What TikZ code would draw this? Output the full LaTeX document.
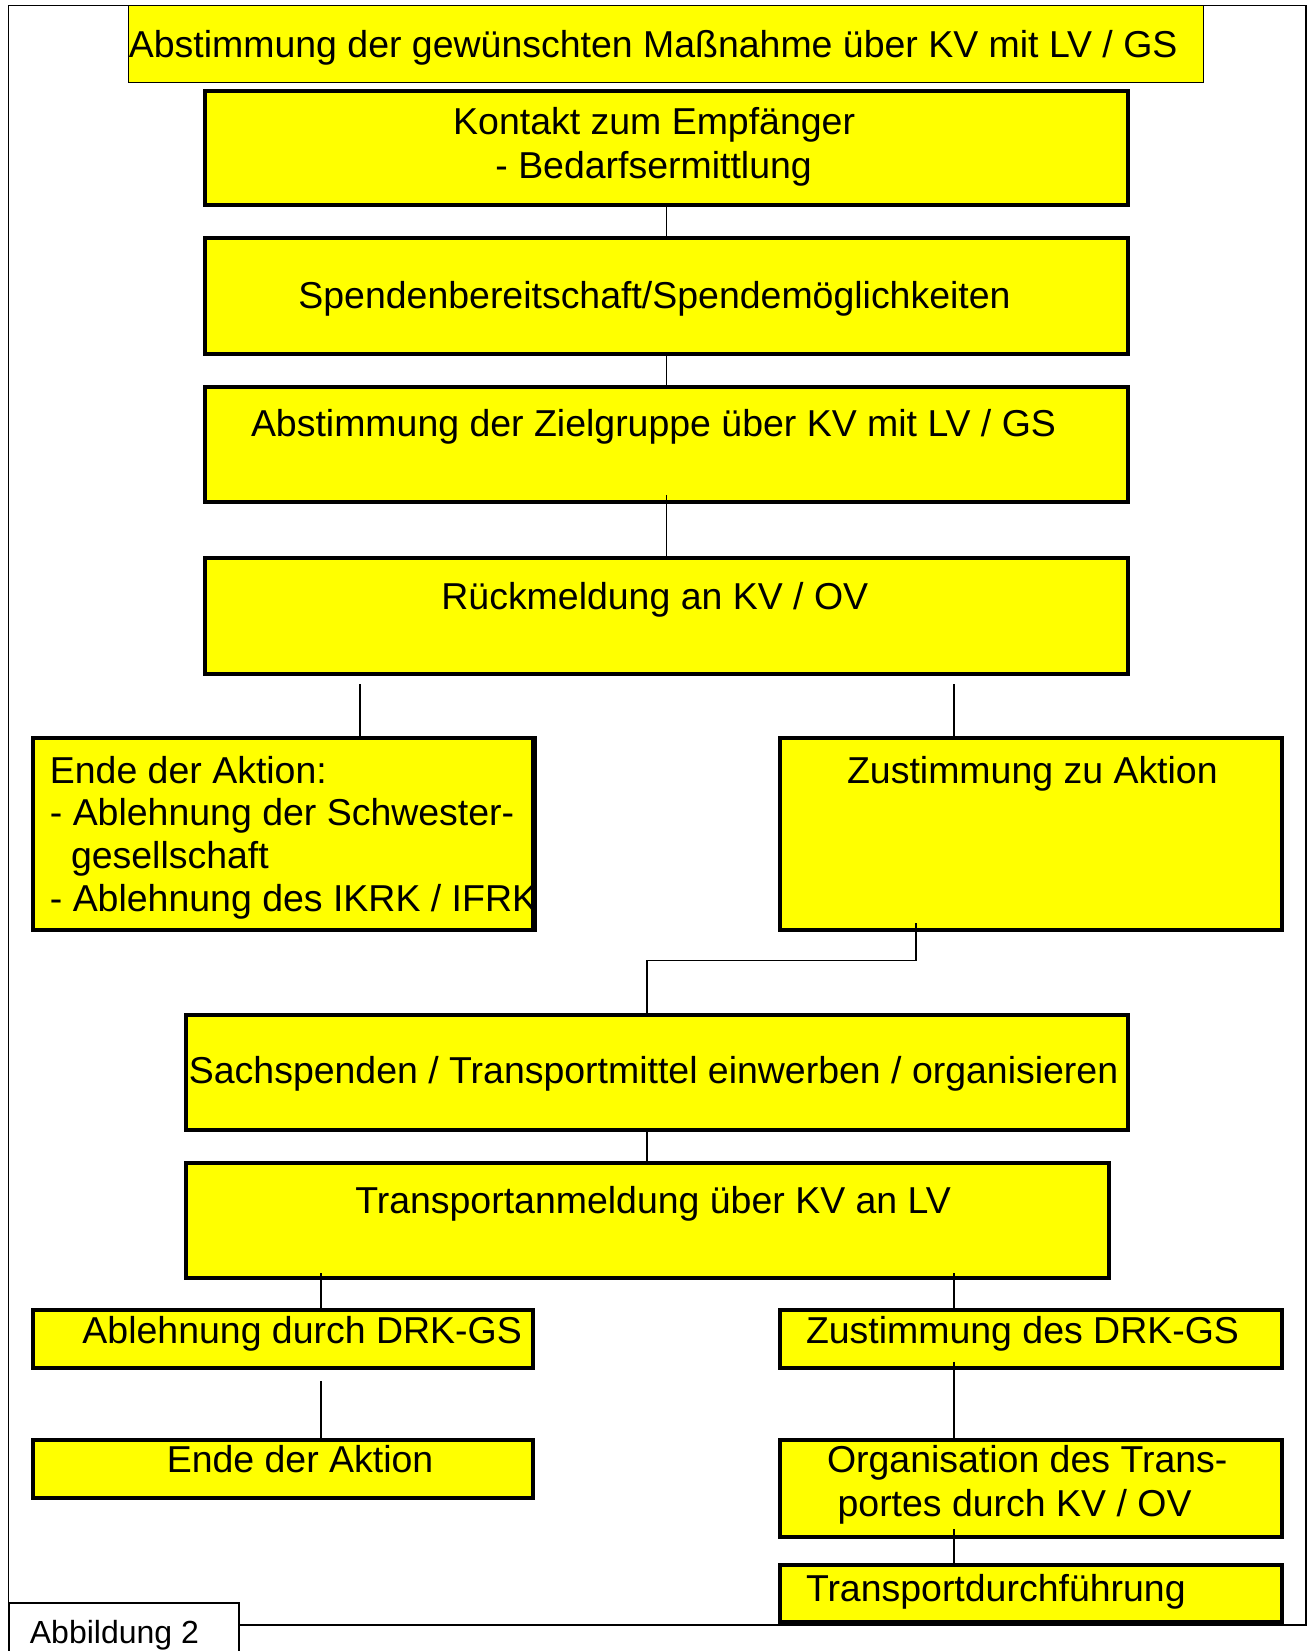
\documentclass[tikz,border=0pt]{standalone}
\usepackage{fontspec}
\setmainfont{Liberation Sans}
\usetikzlibrary{fit}
\definecolor{boxyellow}{RGB}{255,255,0}
\begin{document}
\begin{tikzpicture}[x=0.5pt,y=-0.5pt,
  box/.style={draw=black, line width=2pt, fill=boxyellow, inner sep=0pt, rectangle},
  thinbox/.style={draw=black, line width=0.6pt, fill=boxyellow, inner sep=0pt, rectangle},
  txt/.style={anchor=base west, inner sep=0pt, font=\fontsize{18.73}{22}\selectfont},
  conn/.style={draw=black, line width=0.9pt}]
\useasboundingbox (0,0) rectangle (1310,1651);
% frame
\node[draw=black, line width=0.7pt, inner sep=0pt, fit={(8.4,5.3) (1305.8,1624.9)}] (frame) {};
% boxes
\node[thinbox, fit={(128.5,5.3) (1203.6,82.1)}] (top) {};
\node[box, fit={(205.3,90.6) (1127.8,205.3)}] (kontakt) {};
\node[box, fit={(205.3,238) (1127.8,353.8)}] (spenden) {};
\node[box, fit={(205.3,386.5) (1127.8,502.3)}] (ziel) {};
\node[box, fit={(205.3,558.1) (1127.8,674)}] (rueck) {};
\node[box, fit={(32.6,738.2) (532.8,929.8)}] (ende) {};
\node[box, fit={(780.3,738.2) (1281.6,929.8)}] (zust) {};
\node[box, fit={(186.4,1015.1) (1127.8,1129.9)}] (sach) {};
\node[box, fit={(186.4,1162.7) (1109,1278.4)}] (tanm) {};
\node[box, fit={(32.6,1310) (532.8,1367.9)}] (abl) {};
\node[box, fit={(780.3,1310) (1281.6,1367.9)}] (zdrk) {};
\node[box, fit={(32.6,1439.6) (532.8,1497.5)}] (ende2) {};
\node[box, fit={(780.3,1439.6) (1281.6,1536.5)}] (org) {};
\node[box, fit={(780.3,1564.8) (1281.6,1621.6)}] (tdf) {};
% texts
\node[txt] (ttop) at (128.5,57) {Abstimmung der gewünschten Maßnahme über KV mit LV / GS};
\node[txt] (tk1) at (452.8,134) {Kontakt zum Empfänger};
\node[txt] (tk2) at (495,178) {- Bedarfsermittlung};
\node[txt] (tsp) at (298,308) {Spendenbereitschaft/Spendemöglichkeiten};
\node[txt] (tzi) at (250.6,436) {Abstimmung der Zielgruppe über KV mit LV / GS};
\node[txt] (trk) at (441,609) {Rückmeldung an KV / OV};
\node[txt] (te1) at (49.5,783) {Ende der Aktion:};
\node[txt] (te2) at (49.5,825) {- Ablehnung der Schwester-};
\node[txt] (te3) at (70.6,868) {gesellschaft};
\node[txt] (te4) at (49.5,911) {- Ablehnung des IKRK / IFRK};
\node[txt] (tzu) at (846.7,783) {Zustimmung zu Aktion};
\node[txt] (tsa) at (188.5,1083) {Sachspenden / Transportmittel einwerben / organisieren};
\node[txt] (tta) at (354.9,1213.5) {Transportanmeldung über KV an LV};
\node[txt] (tab) at (82.1,1343) {Ablehnung durch DRK-GS};
\node[txt] (tzd) at (805.6,1343) {Zustimmung des DRK-GS};
\node[txt] (ten) at (166.4,1472.5) {Ende der Aktion};
\node[txt] (to1) at (826.6,1472.5) {Organisation des Trans-};
\node[txt] (to2) at (837.2,1516) {portes durch KV / OV};
\node[txt] (ttd) at (805.6,1601) {Transportdurchführung};
% redraw right border of Ende box over text
\draw[line width=2pt] (ende.north east) -- (ende.south east);
% x positions of connectors
\coordinate (xm) at (666.5,0);
\coordinate (xl) at (360,0);
\coordinate (xr) at (954,0);
\coordinate (xz) at (916.2,0);
\coordinate (xs) at (646.6,0);
\coordinate (xa) at (321,0);
\coordinate (bend) at (0,960.4);
% connectors
\draw[conn] (kontakt.south) -- (spenden.north);
\draw[conn] (spenden.south) -- (ziel.north);
\draw[conn] ([yshift=4.75pt]ziel.south) -- (rueck.north);
\draw[conn] ([yshift=-4.2pt]rueck.south -| xl) -- (ende.north -| xl);
\draw[conn] ([yshift=-4.2pt]rueck.south -| xr) -- (zust.north -| xr);
\draw[conn] ([yshift=4.2pt]zust.south -| xz) -- (bend -| xz) -- (bend -| xs) -- ([yshift=-1.6pt]sach.north -| xs);
\draw[conn] (sach.south -| xs) -- (tanm.north -| xs);
\draw[conn] ([yshift=3.7pt]tanm.south -| xa) -- (abl.north -| xa);
\draw[conn] ([yshift=3.7pt]tanm.south -| xr) -- (zdrk.north -| xr);
\draw[conn] ([yshift=-5.5pt]abl.south -| xa) -- (ende2.north -| xa);
\draw[conn] ([yshift=4.2pt]zdrk.south -| xr) -- (org.north -| xr);
\draw[conn] ([yshift=4.7pt]org.south -| xr) -- (tdf.north -| xr);
% figure label
\node[draw=black, line width=0.7pt, fill=white, inner sep=0pt, fit={(9,1603) (239,1680)}] (abb) {};
\node[anchor=base west, inner sep=0pt, font=\fontsize{16}{19}\selectfont] (tabb) at (29.5,1643) {Abbildung 2};
\end{tikzpicture}
\end{document}
